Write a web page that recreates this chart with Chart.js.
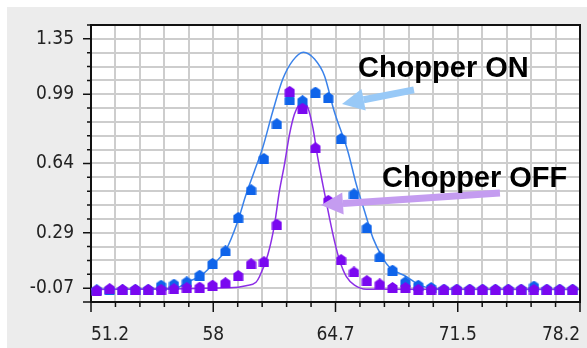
<!DOCTYPE html>
<html>
<head>
<meta charset="utf-8">
<title>Chopper ON / OFF</title>
<script src="https://cdn.jsdelivr.net/npm/chart.js@4.4.0/dist/chart.umd.min.js"></script>
<style>
    html, body { margin: 0; padding: 0; background: #fff; }
    #panel { position: absolute; left: 7px; top: 7px; width: 580px; height: 341px; background: #ececec; }
    #wrap { position: absolute; left: 0; top: 0; width: 587px; height: 348px; }
</style>
</head>
<body>
<div id="panel"></div>
<div id="wrap"><canvas id="peak-chart" width="587" height="348"></canvas></div>
<script>
// scan positions, shared by both runs
var scanX = [51.52, 52.23, 52.94, 53.65, 54.36, 55.07, 55.78, 56.49, 57.20, 57.91,
             58.62, 59.33, 60.04, 60.75, 61.46, 62.17, 62.88, 63.59, 64.30, 65.01,
             65.72, 66.43, 67.14, 67.85, 68.56, 69.27, 69.98, 70.69, 71.40, 72.11,
             72.82, 73.53, 74.24, 74.95, 75.66, 76.37, 77.08, 77.79];

// measured signal
var chopperOn = [-0.080, -0.077, -0.080, -0.077, -0.077, -0.053, -0.047, -0.034, 0.004, 0.071,
                 0.142, 0.333, 0.491, 0.669, 0.867, 1.004, 0.998, 1.047, 1.016, 0.783,
                 0.467, 0.275, 0.109, 0.033, -0.034, -0.053, -0.066, -0.076, -0.076, -0.076,
                 -0.076, -0.076, -0.076, -0.076, -0.058, -0.076, -0.076, -0.076];
var chopperOff = [-0.081, -0.073, -0.077, -0.077, -0.077, -0.077, -0.073, -0.067, -0.064, -0.053,
                  -0.039, 0.002, 0.069, 0.081, 0.295, 1.051, 0.955, 0.730, 0.430, 0.093,
                  0.022, -0.027, -0.046, -0.066, -0.066, -0.077, -0.077, -0.077, -0.077, -0.077,
                  -0.077, -0.077, -0.077, -0.077, -0.077, -0.077, -0.077, -0.077];

// fitted profiles
var onFitX = [51.2, 55.24, 56.07, 56.51, 57.18, 57.91, 58.65, 59.30, 59.76, 60.22,
              60.68, 61.23, 61.79, 62.34, 62.93, 63.54, 64.09, 64.62, 65.38, 65.85,
              66.31, 66.77, 67.32, 67.69, 68.62, 69.35, 70.09, 71.01, 78.2];
var onFitY = [-0.076, -0.073, -0.063, -0.036, -0.005, 0.062, 0.148, 0.310, 0.463, 0.596,
              0.730, 0.935, 1.121, 1.226, 1.274, 1.235, 1.140, 0.940, 0.710, 0.520,
              0.367, 0.215, 0.100, 0.048, -0.005, -0.053, -0.072, -0.076, -0.076];
var offFitX = [51.2, 58.84, 59.76, 60.31, 60.50, 60.96, 61.33, 61.60, 61.88, 62.16,
               62.43, 62.71, 62.89, 63.17, 63.45, 63.72, 64.00, 64.37, 64.65, 64.92,
               65.30, 65.75, 66.40, 78.2];
var offFitY = [-0.077, -0.068, -0.056, -0.036, -0.005, 0.119, 0.291, 0.481, 0.634, 0.806,
               0.921, 0.978, 0.986, 0.959, 0.844, 0.673, 0.520, 0.329, 0.195, 0.090,
               -0.005, -0.053, -0.076, -0.077];

// axis: 20 grid steps each way, labels only on some of them
var xTickLabels = ['51.2', '58', '64.7', '71.5', '78.2'];
var xLabelSteps = [0, 5, 10, 15, 20];
var yTickLabels = ['-0.07', '0.29', '0.64', '0.99', '1.35'];
var yLabelSteps = [1, 5, 10, 15, 19];

var X_MIN = 51.2, X_STEP = 1.35;
var Y_MIN = -0.148889, Y_STEP = 0.078889;
var STEPS = 20;

var TICK_FONT = { family: "'DejaVu Sans Condensed', 'DejaVu Sans', sans-serif", size: 19 };

var PeakChart =
{
    init: function()
    {
        var ctx = document.getElementById('peak-chart');

        new Chart(ctx, {
            type: 'scatter',
            data: {
                datasets: [
                    this.pointSet('Chopper OFF', chopperOff, '#7a08f0', 0),
                    this.pointSet('Chopper ON', chopperOn, '#0f64ea', 1),
                    this.fitSet('OFF fit', offFitX, offFitY, '#8c2ee6', 2),
                    this.fitSet('ON fit', onFitX, onFitY, '#3a82ea', 3)
                ]
            },
            options: {
                responsive: false,
                animation: false,
                events: [],
                layout: { padding: { top: 25, right: 7, left: 0, bottom: 0 } },
                plugins: {
                    legend: { display: false },
                    tooltip: { enabled: false }
                },
                scales: {
                    x: {
                        type: 'linear',
                        min: X_MIN,
                        max: X_MIN + STEPS * X_STEP,
                        afterBuildTicks: function(scale) {
                            scale.ticks = PeakChart.gridValues(X_MIN, X_STEP);
                        },
                        afterFit: function(scale) {
                            //keep plot edges where the layout padding puts them
                            scale.height = 46;
                            scale.paddingLeft = 0;
                            scale.paddingRight = 0;
                        },
                        ticks: {
                            autoSkip: false,
                            maxRotation: 0,
                            align: 'inner',
                            padding: 22,
                            color: '#222',
                            font: TICK_FONT,
                            callback: function(value, index) {
                                var i = xLabelSteps.indexOf(index);
                                return i < 0 ? '' : xTickLabels[i];
                            }
                        },
                        grid: { color: '#cdcdcd', lineWidth: 2, drawTicks: false },
                        border: { color: '#111', width: 2 }
                    },
                    y: {
                        type: 'linear',
                        min: Y_MIN,
                        max: Y_MIN + STEPS * Y_STEP,
                        afterBuildTicks: function(scale) {
                            scale.ticks = PeakChart.gridValues(Y_MIN, Y_STEP);
                        },
                        afterFit: function(scale) {
                            scale.width = 91;
                            scale.paddingTop = 0;
                            scale.paddingBottom = 0;
                        },
                        ticks: {
                            autoSkip: false,
                            padding: 17,
                            color: '#222',
                            font: TICK_FONT,
                            callback: function(value, index) {
                                var i = yLabelSteps.indexOf(index);
                                return i < 0 ? '' : yTickLabels[i];
                            }
                        },
                        grid: { color: '#cdcdcd', lineWidth: 2, drawTicks: false },
                        border: { color: '#111', width: 2 }
                    }
                }
            },
            plugins: [this.plotFrame, this.callouts]
        });
    },

    gridValues: function(start, step)
    {
        var ticks = [];
        for (var k = 0; k <= STEPS; k++) {
            ticks.push({ value: start + k * step });
        }
        return ticks;
    },

    pointSet: function(label, values, color, order)
    {
        return {
            label: label,
            order: order,
            data: scanX.map(function(x, i) { return { x: x, y: values[i] }; }),
            pointStyle: this.marker(color),
            pointRadius: 5,
            showLine: false
        };
    },

    fitSet: function(label, xs, ys, color, order)
    {
        return {
            label: label,
            order: order,
            data: xs.map(function(x, i) { return { x: x, y: ys[i] }; }),
            showLine: true,
            borderColor: color,
            borderWidth: 1.5,
            pointRadius: 0,
            cubicInterpolationMode: 'monotone'
        };
    },

    // small house shaped marker
    marker: function(color)
    {
        var c = document.createElement('canvas');
        c.width = 11;
        c.height = 11;
        var g = c.getContext('2d');
        g.fillStyle = color;
        g.beginPath();
        g.moveTo(5.5, 0);
        g.lineTo(10.5, 3.5);
        g.lineTo(10.5, 11);
        g.lineTo(0.5, 11);
        g.lineTo(0.5, 3.5);
        g.closePath();
        g.fill();
        return c;
    },

    plotFrame: {
        id: 'plotFrame',
        beforeDraw: function(chart)
        {
            var a = chart.chartArea, ctx = chart.ctx;
            ctx.save();
            ctx.fillStyle = '#fff';
            ctx.fillRect(a.left, a.top, a.right - a.left, a.bottom - a.top);
            ctx.restore();
        },
        afterDraw: function(chart)
        {
            var a = chart.chartArea, ctx = chart.ctx;
            var xs = chart.scales.x, ys = chart.scales.y;
            ctx.save();
            ctx.strokeStyle = '#111';
            ctx.lineWidth = 2;

            // top and right edge of the frame
            ctx.beginPath();
            ctx.moveTo(a.left, a.top);
            ctx.lineTo(a.right, a.top);
            ctx.lineTo(a.right, a.bottom);
            ctx.stroke();

            // tick marks, longer where a label sits
            ctx.lineWidth = 1.5;
            ctx.beginPath();
            xs.ticks.forEach(function(t, k) {
                var px = xs.getPixelForValue(t.value);
                var len = xLabelSteps.indexOf(k) < 0 ? 5 : 10;
                ctx.moveTo(px, a.bottom);
                ctx.lineTo(px, a.bottom + len);
            });
            ys.ticks.forEach(function(t, k) {
                var py = ys.getPixelForValue(t.value);
                var len = (yLabelSteps.indexOf(k) < 0 && k > 0) ? 4 : 8;
                ctx.moveTo(a.left, py);
                ctx.lineTo(a.left - len, py);
            });
            ctx.stroke();
            ctx.restore();
        }
    },

    callouts: {
        id: 'callouts',
        items: [
            { text: 'Chopper ON', textX: 65.94, textY: 1.133, fromX: 69.03, fromY: 1.059, toX: 65.06, toY: 0.979, color: '#98c9f7' },
            { text: 'Chopper OFF', textX: 67.27, textY: 0.506, fromX: 73.78, fromY: 0.472, toX: 63.90, toY: 0.404, color: '#c49cf0' }
        ],
        afterDatasetsDraw: function(chart)
        {
            var ctx = chart.ctx, xs = chart.scales.x, ys = chart.scales.y;
            ctx.save();
            this.items.forEach(function(c) {
                var x0 = xs.getPixelForValue(c.fromX), y0 = ys.getPixelForValue(c.fromY);
                var x1 = xs.getPixelForValue(c.toX), y1 = ys.getPixelForValue(c.toY);
                var ang = Math.atan2(y1 - y0, x1 - x0);
                var head = 22, half = 11;
                var bx = x1 - Math.cos(ang) * head, by = y1 - Math.sin(ang) * head;

                ctx.strokeStyle = c.color;
                ctx.fillStyle = c.color;
                ctx.lineWidth = 7;
                ctx.beginPath();
                ctx.moveTo(x0, y0);
                ctx.lineTo(bx, by);
                ctx.stroke();

                ctx.beginPath();
                ctx.moveTo(x1, y1);
                ctx.lineTo(bx + Math.sin(ang) * half, by - Math.cos(ang) * half);
                ctx.lineTo(bx - Math.sin(ang) * half, by + Math.cos(ang) * half);
                ctx.closePath();
                ctx.fill();

                ctx.fillStyle = '#000';
                ctx.font = "bold 29px 'Liberation Sans', Arial, sans-serif";
                ctx.textBaseline = 'alphabetic';
                ctx.fillText(c.text, xs.getPixelForValue(c.textX), ys.getPixelForValue(c.textY));
            });
            ctx.restore();
        }
    }
};
PeakChart.init();
</script>
</body>
</html>
